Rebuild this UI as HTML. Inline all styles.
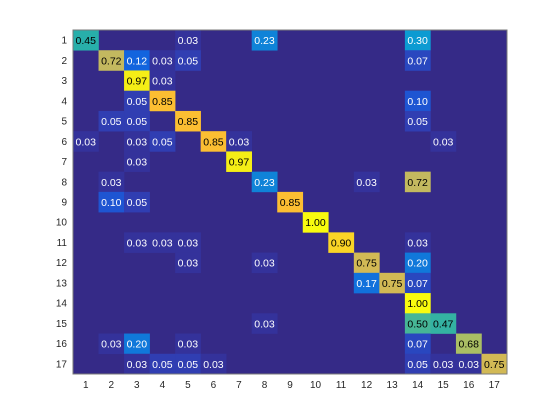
<!DOCTYPE html>
<html><head><meta charset="utf-8"><style>
html,body{margin:0;padding:0;background:#fff;width:560px;height:420px;overflow:hidden}
svg{display:block;font-family:"Liberation Sans",sans-serif}
</style></head><body>
<svg id="chart" width="560" height="420" viewBox="0 0 560 420">
<rect x="0" y="0" width="560" height="420" fill="#fff"/>
<g id="cells"></g>
<g id="xt"></g>
<g id="yt"></g>
<rect x="73" y="30" width="434" height="344" fill="none" stroke="#7a7a7a" stroke-width="1"/>
</svg>
<script>
const rowLabels=["1","2","3","4","5","6","7","8","9","10","11","12","13","14","15","16","17"];
const colLabels=["1","2","3","4","5","6","7","8","9","10","11","12","13","14","15","16","17"];
// nonzero entries: [row, col, value] (1-based)
const entryRows=[1,1,1,1, 2,2,2,2,2, 3,3, 4,4,4, 5,5,5,5, 6,6,6,6,6,6, 7,7, 8,8,8,8, 9,9,9, 10, 11,11,11,11,11, 12,12,12,12, 13,13,13, 14, 15,15,15, 16,16,16,16,16, 17,17,17,17,17,17,17,17,17];
const entryCols=[1,5,8,14, 2,3,4,5,14, 3,4, 3,4,14, 2,3,5,14, 1,3,4,6,7,15, 3,7, 2,8,12,14, 2,3,9, 10, 3,4,5,11,14, 5,8,12,14, 12,13,14, 14, 8,14,15, 2,3,5,14,16, 3,4,5,6,14,15,16,17];
const entryVals=[0.45,0.03,0.23,0.30, 0.72,0.12,0.03,0.05,0.07, 0.97,0.03, 0.05,0.85,0.10, 0.05,0.05,0.85,0.05, 0.03,0.03,0.05,0.85,0.03,0.03, 0.03,0.97, 0.03,0.23,0.03,0.72, 0.10,0.05,0.85, 1.00, 0.03,0.03,0.03,0.90,0.03, 0.03,0.03,0.75,0.20, 0.17,0.75,0.07, 1.00, 0.03,0.50,0.47, 0.03,0.20,0.03,0.07,0.68, 0.03,0.05,0.05,0.03,0.05,0.03,0.03,0.75];

const X0=73,Y0=30,W=434,H=344;
const cw=W/colLabels.length, ch=H/rowLabels.length;
function xPos(c){return X0+(c-1)*cw;}
function yPos(r){return Y0+(r-1)*ch;}
const stops=[[0,53,42,135],[0.03,52,50,155],[0.05,48,62,178],[0.1,30,85,210],[0.12,18,100,222],[0.2,16,120,218],[0.3,12,155,210],[0.45,40,175,170],[0.5,70,182,150],[0.68,170,190,100],[0.72,195,185,95],[0.75,210,185,85],[0.85,252,190,50],[0.9,250,212,38],[0.97,245,238,22],[1,249,251,14]];
function color(v){
  for(let i=1;i<stops.length;i++){if(v<=stops[i][0]){const a=stops[i-1],b=stops[i];const t=(v-a[0])/(b[0]-a[0]);return `rgb(${Math.round(a[1]+t*(b[1]-a[1]))},${Math.round(a[2]+t*(b[2]-a[2]))},${Math.round(a[3]+t*(b[3]-a[3]))})`;}}
  return "rgb(249,251,14)";
}
const NS="http://www.w3.org/2000/svg";
const g=document.getElementById('cells');
const bg=document.createElementNS(NS,'rect');
bg.setAttribute('x',X0);bg.setAttribute('y',Y0);bg.setAttribute('width',W);bg.setAttribute('height',H);bg.setAttribute('fill',color(0));


g.appendChild(bg);
for(let i=0;i<entryVals.length;i++){
  const r=entryRows[i],c=entryCols[i],v=entryVals[i];
  const rc=document.createElementNS(NS,'rect');
  rc.setAttribute('x',xPos(c));rc.setAttribute('y',yPos(r));rc.setAttribute('width',cw+0.3);rc.setAttribute('height',ch+0.3);rc.setAttribute('fill',color(v));
  
  
  g.appendChild(rc);
  const t=document.createElementNS(NS,'text');
  t.setAttribute('x',xPos(c)+cw/2);t.setAttribute('y',yPos(r)+ch/2+4);t.setAttribute('text-anchor','middle');
  t.setAttribute('font-size','10.5');t.setAttribute('fill',v<0.4?'#fff':'#000');
  t.textContent=v.toFixed(2);
  
  
  g.appendChild(t);
}
const xt=document.getElementById('xt');
colLabels.forEach((l,i)=>{
  const t=document.createElementNS(NS,'text');
  t.setAttribute('x',xPos(i+1)+cw/2);t.setAttribute('y',388);t.setAttribute('text-anchor','middle');t.setAttribute('font-size','10');t.setAttribute('fill','#262626');
  t.textContent=l;
  
  
  xt.appendChild(t);
});
const yt=document.getElementById('yt');
rowLabels.forEach((l,i)=>{
  const t=document.createElementNS(NS,'text');
  t.setAttribute('x',67);t.setAttribute('y',yPos(i+1)+ch/2+3.5);t.setAttribute('text-anchor','end');t.setAttribute('font-size','10');t.setAttribute('fill','#262626');
  t.textContent=l;
  
  
  yt.appendChild(t);
});
</script>
</body></html>
